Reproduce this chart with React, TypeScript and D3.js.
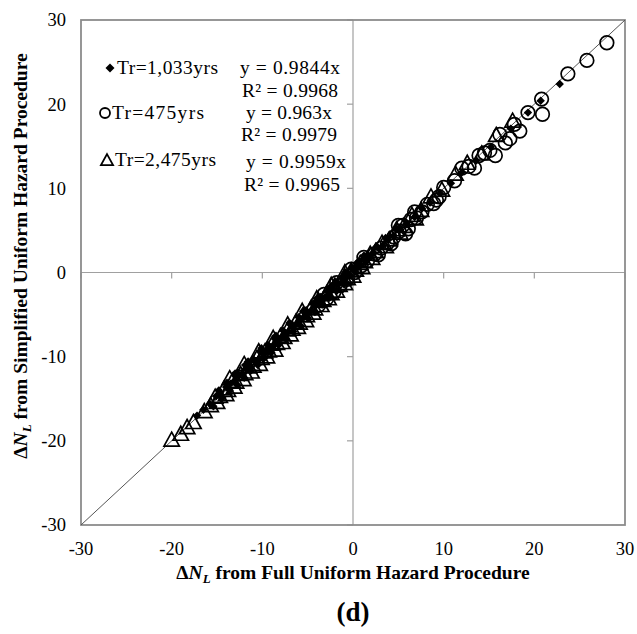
import React from 'react';
import * as d3 from 'd3';

// Tr=1,033yrs (filled diamonds)
const diamonds: [number, number][] = [
  [-17.2, -17.0], [-16.5, -16.3], [-15.8, -15.6], [-15.1, -14.7], [-14.6, -14.5], [-14.0, -13.6],
  [-13.5, -13.2], [-13.1, -12.9], [-12.6, -12.1], [-12.2, -12.0], [-11.8, -11.4], [-11.3, -11.2],
  [-10.9, -10.5], [-10.4, -10.3], [-10.0, -9.6], [-9.6, -9.5], [-9.2, -8.8], [-8.8, -8.7],
  [-8.3, -8.0], [-7.9, -7.8], [-7.5, -7.2], [-7.1, -7.0], [-6.7, -6.4], [-6.2, -6.1],
  [-5.8, -5.6], [-5.4, -5.3], [-5.0, -4.8], [-4.6, -4.5], [-4.2, -4.0], [-3.8, -3.7],
  [-3.3, -3.1], [-2.9, -2.8], [-2.5, -2.3], [-2.1, -2.0], [-1.6, -1.4], [-1.2, -1.1],
  [-0.8, -0.6], [-0.4, -0.3], [0.1, 0.2], [0.5, 0.6], [0.9, 0.9], [1.4, 1.5],
  [1.8, 1.8], [2.3, 2.3], [2.8, 2.9], [3.3, 3.2], [3.9, 3.9], [4.5, 4.4],
  [5.2, 5.1], [5.9, 5.8], [6.8, 6.6], [7.6, 7.6], [8.5, 8.3], [9.6, 9.4],
  [10.8, 10.6], [12.0, 11.9], [13.6, 13.3], [15.2, 14.9], [17.4, 17.1], [19.3, 19.0],
  [20.7, 20.4], [22.8, 22.4],
  [-14.8, -14.0], [-13.9, -13.1], [-12.9, -12.3], [-11.9, -11.0], [-11.0, -10.3], [-10.2, -9.3],
  [-9.4, -8.6], [-8.6, -7.9], [-7.7, -6.9], [-6.9, -6.2], [-6.0, -5.3], [-5.2, -4.5],
  [-4.4, -3.7], [-3.6, -2.9], [-2.7, -2.1], [-1.9, -1.2], [-1.0, -0.4], [-0.2, 0.5],
  [0.7, 1.3], [1.6, 2.1], [2.6, 3.1], [3.6, 4.1], [4.8, 5.2],
  [-15.4, -15.9], [-14.4, -14.9], [-13.6, -14.0], [-12.8, -13.3], [-12.0, -12.5], [-11.3, -11.7],
  [-10.5, -11.0], [-9.8, -10.2], [-9.0, -9.5], [-8.2, -8.6], [-7.4, -7.9], [-6.6, -7.0],
  [-5.8, -6.3], [-5.0, -5.4], [-4.2, -4.7], [-3.4, -3.8], [-2.6, -3.0], [-1.8, -2.2],
  [-1.0, -1.4], [-13.0, -12.0], [-11.6, -10.6], [-10.1, -9.0], [-8.5, -7.5], [-7.0, -6.0],
  [-5.5, -4.6], [-4.0, -3.1], [-2.4, -1.6], [-0.8, 0.0], [0.4, 1.1], [1.2, 2.0],
];

// Tr=475yrs (open circles)
const circles: [number, number][] = [
  [-3.8, -3.9], [-2.9, -3.1], [-2.1, -2.3], [-1.4, -1.5], [-0.6, -0.8], [0.2, 0.0],
  [0.9, 0.8], [1.6, 1.4], [2.4, 2.2], [3.1, 2.9], [3.8, 3.5], [4.5, 4.2],
  [5.1, 4.9], [5.5, 5.6], [5.8, 4.6], [6.4, 6.3], [7.0, 6.5], [7.6, 7.2],
  [8.2, 8.1], [8.9, 8.2], [9.5, 9.0], [10.0, 10.1], [11.2, 10.9], [12.0, 12.4],
  [12.8, 12.6], [13.4, 12.4], [13.9, 13.9], [14.5, 14.2], [15.1, 14.5], [15.7, 13.9],
  [16.2, 16.4], [16.8, 15.4], [17.3, 15.9], [17.8, 17.6], [18.4, 16.8], [19.3, 19.0],
  [20.8, 20.6], [20.9, 18.8], [23.7, 23.6], [25.8, 25.2], [28.0, 27.3],
  [-3.2, -2.6], [-1.8, -1.2], [-0.2, 0.4], [1.2, 1.8], [2.8, 2.1], [4.2, 3.4],
  [5.0, 5.6], [6.1, 5.2], [6.8, 7.2], [9.2, 8.6],
];

// Tr=2,475yrs (open triangles)
const triangles: [number, number][] = [
  [-20.0, -20.0], [-19.0, -19.3], [-18.3, -18.5], [-17.6, -17.9], [-16.4, -16.6], [-15.7, -15.9],
  [-15.2, -14.9], [-14.7, -14.8], [-14.2, -13.9], [-13.8, -14.1], [-13.3, -13.0], [-12.9, -13.1],
  [-12.4, -12.2], [-11.9, -12.1], [-11.5, -11.3], [-11.0, -11.2], [-10.6, -10.3], [-10.1, -10.3],
  [-9.7, -9.5], [-9.3, -9.4], [-8.9, -8.6], [-8.4, -8.5], [-8.0, -7.7], [-7.6, -7.8],
  [-7.2, -6.9], [-6.7, -6.8], [-6.3, -6.0], [-5.9, -6.1], [-5.5, -5.2], [-5.1, -5.2],
  [-4.6, -4.3], [-4.2, -4.4], [-3.8, -3.5], [-3.3, -3.4], [-2.9, -2.6], [-2.4, -2.6],
  [-2.0, -1.7], [-1.5, -1.6], [-1.0, -0.7], [-0.6, -0.8], [-0.2, 0.1], [0.3, 0.2],
  [0.8, 1.0], [1.3, 1.2], [1.9, 2.1], [2.5, 2.4], [3.2, 3.4], [4.0, 3.8],
  [4.8, 5.0], [5.6, 5.4], [6.5, 6.7], [7.5, 7.3], [8.6, 8.9], [9.8, 9.7],
  [11.3, 11.6], [12.6, 12.9], [14.2, 14.0], [15.8, 16.2], [17.6, 17.9],
  [-15.0, -15.5], [-14.0, -14.6], [-13.1, -13.7], [-12.1, -12.8], [-11.2, -11.9], [-10.3, -11.0],
  [-9.5, -10.1], [-8.6, -9.3], [-7.8, -8.4], [-6.9, -7.5], [-6.1, -6.6], [-5.2, -5.8],
  [-4.4, -4.9], [-3.5, -4.0], [-2.7, -3.2], [-1.8, -2.3], [-0.9, -1.4], [0.0, -0.5],
  [1.0, 0.5], [2.1, 1.6], [3.6, 3.0], [5.2, 4.6], [6.9, 6.3],
  [-13.6, -12.7], [-12.0, -11.0], [-10.4, -9.5], [-8.8, -7.9], [-7.2, -6.3], [-5.6, -4.7],
  [-4.0, -3.2], [-2.4, -1.6], [-0.9, -0.1],
];

const ticks = [-30, -20, -10, 0, 10, 20, 30];

const legend = [
  { label: 'Tr=1,033yrs', eq: 'y = 0.9844x', r2: 'R² = 0.9968', kind: 'diamond' },
  { label: 'Tr=475yrs', eq: 'y = 0.963x', r2: 'R² = 0.9979', kind: 'circle' },
  { label: 'Tr=2,475yrs', eq: 'y = 0.9959x', r2: 'R² = 0.9965', kind: 'triangle' },
];

const W = 637;
const H = 634;
const left = 81, right = 625, top = 20, bottom = 525;
const serif = '"Liberation Serif", "Times New Roman", serif';

const tri = (s: number) => `M0,${-s * 0.62}L${s * 0.55},${s * 0.38}L${-s * 0.55},${s * 0.38}Z`;
const dia = (s: number) => `M0,${-s}L${s},0L0,${s}L${-s},0Z`;

function Marker({ kind, x, y }: { kind: string; x: number; y: number }) {
  if (kind === 'diamond') return <path d={dia(4.2)} transform={`translate(${x},${y})`} fill="#000" />;
  if (kind === 'circle')
    return <circle cx={x} cy={y} r={6.8} fill="none" stroke="#000" strokeWidth={1.7} />;
  return <path d={tri(14)} transform={`translate(${x},${y})`} fill="none" stroke="#000" strokeWidth={1.7} />;
}

export default function App() {
  const x = d3.scaleLinear().domain([-30, 30]).range([left, right]);
  const y = d3.scaleLinear().domain([-30, 30]).range([bottom, top]);

  // legend layout positions
  const legY = [74, 119, 166];
  const eqY = [[74, 97], [119, 141], [168, 191]];
  const eqX = [[240, 242], [246, 241], [246, 244]];
  const mkX = [110, 105, 107];
  const lbX = [117, 112, 115];

  return (
    <svg width={W} height={H} style={{ display: 'block', position: 'absolute', left: 0, top: 0 }}>
      <rect x={0} y={0} width={W} height={H} fill="#fff" />
      {/* axes through zero */}
      <line x1={x(0)} x2={x(0)} y1={top} y2={bottom} stroke="#a0a0a0" strokeWidth={1.2} />
      <line x1={left} x2={right} y1={y(0)} y2={y(0)} stroke="#a0a0a0" strokeWidth={1.2} />
      {ticks.map((t) => (
        <g key={t}>
          <line x1={x(0) - 6} x2={x(0)} y1={y(t)} y2={y(t)} stroke="#a0a0a0" strokeWidth={1.2} />
          <line x1={x(t)} x2={x(t)} y1={y(0)} y2={y(0) + 6} stroke="#a0a0a0" strokeWidth={1.2} />
          <text x={x(t)} y={555} textAnchor="middle" fontFamily={serif} fontSize={18.5}>{t}</text>
          <text x={66} y={y(t)} dy="0.35em" textAnchor="end" fontFamily={serif} fontSize={18.5}>{t}</text>
        </g>
      ))}
      {/* frame */}
      <rect x={left} y={top} width={right - left} height={bottom - top} fill="none" stroke="#8c8c8c" strokeWidth={1.8} />
      {/* 1:1 line */}
      <line x1={x(-30)} y1={y(-30)} x2={x(30)} y2={y(30)} stroke="#555" strokeWidth={1} />
      {/* data */}
      {triangles.map((d, i) => <Marker key={'t' + i} kind="triangle" x={x(d[0])} y={y(d[1])} />)}
      {circles.map((d, i) => <Marker key={'c' + i} kind="circle" x={x(d[0])} y={y(d[1])} />)}
      {diamonds.map((d, i) => <Marker key={'d' + i} kind="diamond" x={x(d[0])} y={y(d[1])} />)}
      {/* legend */}
      {legend.map((l, i) => (
        <g key={l.label} fontFamily={serif} fontSize={19.5}>
          {l.kind === 'diamond' && <path d={dia(4.5)} transform={`translate(${mkX[i]},${legY[i] - 6})`} fill="#000" />}
          {l.kind === 'circle' && <circle cx={mkX[i]} cy={legY[i] - 6} r={5} fill="none" stroke="#000" strokeWidth={1.8} />}
          {l.kind === 'triangle' && <path d={tri(11)} transform={`translate(${mkX[i]},${legY[i] - 5})`} fill="none" stroke="#000" strokeWidth={1.8} />}
          <text x={lbX[i]} y={legY[i]} textLength={i === 1 ? 92 : 101}>{l.label}</text>
          <text x={eqX[i][0]} y={eqY[i][0]} textLength={i === 1 ? 86 : 100}>{l.eq}</text>
          <text x={eqX[i][1]} y={eqY[i][1]} textLength={96}>{l.r2}</text>
        </g>
      ))}
      {/* axis titles */}
      <text x={x(0)} y={579} textAnchor="middle" fontFamily={serif} fontSize={19.5} fontWeight="bold">
        Δ<tspan fontStyle="italic">N</tspan><tspan fontStyle="italic" fontSize={13} dy={4}>L</tspan>
        <tspan dy={-4}> from Full Uniform Hazard Procedure</tspan>
      </text>
      <text transform={`translate(27,256) rotate(-90)`} textAnchor="middle" fontFamily={serif} fontSize={19.5} fontWeight="bold">
        Δ<tspan fontStyle="italic">N</tspan><tspan fontStyle="italic" fontSize={13} dy={4}>L</tspan>
        <tspan dy={-4}> from Simplified Uniform Hazard Procedure</tspan>
      </text>
      <text x={x(0)} y={621} textAnchor="middle" fontFamily={serif} fontSize={27} fontWeight="bold">(d)</text>
    </svg>
  );
}
